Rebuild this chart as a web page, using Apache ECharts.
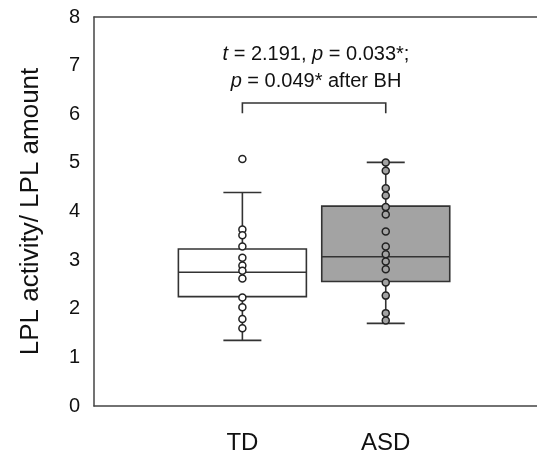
<!DOCTYPE html>
<html>
<head>
<meta charset="utf-8">
<script src="https://cdn.jsdelivr.net/npm/echarts@6/dist/echarts.min.js"></script>
<style>
  html, body { margin: 0; padding: 0; background: #fff; }
  #chart { width: 537px; height: 459px; }
</style>
</head>
<body>
<div id="chart"></div>
<script>
const groups = ['TD', 'ASD'];
const groupPos = [1, 2];
// [low whisker, Q1, median, Q3, high whisker]
const tdBox = [1.35, 2.25, 2.75, 3.23, 4.39];
const asdBox = [1.70, 2.56, 3.07, 4.11, 5.01];
const tdPoints = [5.08, 3.63, 3.51, 3.28, 3.05, 2.89, 2.78, 2.62, 2.23, 2.03, 1.79, 1.60];
const asdPoints = [5.01, 4.84, 4.48, 4.33, 4.09, 3.94, 3.59, 3.28, 3.12, 2.97, 2.81, 2.54, 2.27, 1.91, 1.76];
const yTicks = [0, 1, 2, 3, 4, 5, 6, 7, 8];
const bracketY = [6.02, 6.23];

const lineColor = '#333';
const axisColor = '#444';
const boxFills = ['#ffffff', '#a3a3a3'];

function boxItem(params, api) {
  const x = api.value(0);
  const lo = api.coord([x, api.value(1)]);
  const q1 = api.coord([x, api.value(2)]);
  const med = api.coord([x, api.value(3)]);
  const q3 = api.coord([x, api.value(4)]);
  const hi = api.coord([x, api.value(5)]);
  const half = 64, cap = 19;
  const cx = lo[0];
  const style = { stroke: lineColor, lineWidth: 1.6 };
  return {
    type: 'group',
    children: [
      { type: 'line', shape: { x1: cx, y1: hi[1], x2: cx, y2: q3[1] }, style: style },
      { type: 'line', shape: { x1: cx, y1: q1[1], x2: cx, y2: lo[1] }, style: style },
      { type: 'line', shape: { x1: cx - cap, y1: hi[1], x2: cx + cap, y2: hi[1] }, style: style },
      { type: 'line', shape: { x1: cx - cap, y1: lo[1], x2: cx + cap, y2: lo[1] }, style: style },
      { type: 'rect', shape: { x: cx - half, y: q3[1], width: half * 2, height: q1[1] - q3[1] },
        style: { fill: boxFills[params.dataIndex], stroke: lineColor, lineWidth: 1.6 } },
      { type: 'line', shape: { x1: cx - half, y1: med[1], x2: cx + half, y2: med[1] }, style: style }
    ]
  };
}

function bracketItem(params, api) {
  const a = api.coord([groupPos[0], bracketY[1]]);
  const b = api.coord([groupPos[1], bracketY[1]]);
  const a0 = api.coord([groupPos[0], bracketY[0]]);
  return {
    type: 'polyline',
    shape: { points: [[a[0], a0[1]], a, b, [b[0], a0[1]]] },
    style: { stroke: lineColor, lineWidth: 1.6, fill: 'none' }
  };
}

const chart = echarts.init(document.getElementById('chart'));
chart.setOption({
  animation: false,
  grid: { left: 94, top: 17, right: -5, bottom: 53 },
  xAxis: [
    {
      type: 'value',
      min: -0.035,
      max: 3.055,
      splitLine: { show: false },
      axisLine: { show: true, onZero: false, lineStyle: { color: axisColor, width: 1.5 } },
      axisTick: { show: false },
      axisLabel: {
        customValues: groupPos,
        formatter: v => groups[groupPos.indexOf(v)] || '',
        color: '#111', fontSize: 24, fontFamily: 'Liberation Sans', margin: 25
      }
    },
    {
      type: 'value',
      position: 'top',
      min: -0.035,
      max: 3.055,
      splitLine: { show: false },
      axisLine: { show: true, onZero: false, lineStyle: { color: axisColor, width: 1.5 } },
      axisTick: { show: false },
      axisLabel: { show: false }
    }
  ],
  yAxis: {
    type: 'value',
    min: 0,
    max: 8,
    interval: 1,
    name: 'LPL activity/ LPL amount',
    nameLocation: 'middle',
    nameGap: 50,
    nameTextStyle: { fontSize: 26, color: '#111', fontFamily: 'Liberation Sans' },
    splitLine: { show: false },
    axisLine: { show: true, onZero: false, lineStyle: { color: axisColor, width: 1.5 } },
    axisTick: { show: false },
    axisLabel: {
      customValues: yTicks,
      color: '#111', fontSize: 20, fontFamily: 'Liberation Sans', margin: 14
    }
  },
  series: [
    {
      type: 'custom',
      renderItem: boxItem,
      data: [[groupPos[0]].concat(tdBox), [groupPos[1]].concat(asdBox)],
      z: 2
    },
    {
      type: 'custom',
      renderItem: bracketItem,
      data: [[groupPos[0], bracketY[1]]],
      z: 2
    },
    {
      type: 'scatter',
      data: tdPoints.map(v => [groupPos[0], v]),
      symbol: 'circle',
      symbolSize: 7,
      itemStyle: { color: '#fff', borderColor: '#222', borderWidth: 1.5, opacity: 1 },
      z: 3
    },
    {
      type: 'scatter',
      data: asdPoints.map(v => [groupPos[1], v]),
      symbol: 'circle',
      symbolSize: 7,
      itemStyle: { color: '#a3a3a3', borderColor: '#222', borderWidth: 1.5, opacity: 1 },
      z: 3
    }
  ],
  graphic: [
    {
      type: 'text',
      style: {
        x: 316, y: 68,
        text: '{i|t} = 2.191, {i|p} = 0.033*;\n{i|p} = 0.049* after BH',
        align: 'center', verticalAlign: 'middle',
        font: '20px "Liberation Sans"',
        fill: '#111',
        lineHeight: 27,
        rich: {
          i: { fontStyle: 'italic', fontSize: 20, fontFamily: 'Liberation Sans', lineHeight: 27 }
        }
      }
    }
  ]
});
</script>
</body>
</html>
